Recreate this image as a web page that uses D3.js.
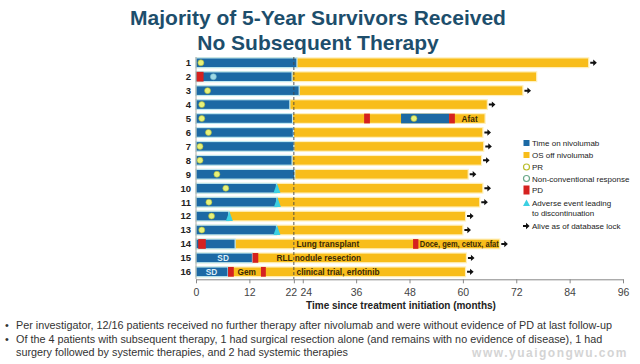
<!DOCTYPE html>
<html><head><meta charset="utf-8">
<script src="https://cdn.jsdelivr.net/npm/d3@7/dist/d3.min.js"></script>
<style>body{margin:0;background:#fff;}svg{display:block;font-family:Arial,"Liberation Sans",sans-serif;}</style>
</head><body><svg id="c" width="640" height="364"></svg>
<script>
const patients = ["1","2","3","4","5","6","7","8","9","10","11","12","13","14","15","16"];
const nivoEnd = [22.7,21.6,23.2,21.1,21.7,21.9,22.0,21.6,22.2,18.1,18.2,7.4,18.1,8.8,12.7,7.2];
const osEnd = [88.3,76.6,73.5,65.5,65.0,64.5,64.7,64.2,61.2,64.5,63.8,60.6,60.0,68.3,60.8,60.6];
const alive = [1,0,1,1,0,1,1,1,1,1,1,1,1,1,1,1];
const nivoExtra = [{row:"5",start:46.1,end:56.9}];
const pdMarks = [{row:"2",start:0.1,end:1.7},{row:"5",start:37.8,end:39.1},{row:"5",start:56.9,end:58.2},
  {row:"14",start:0.5,end:2.2},{row:"14",start:48.8,end:50.0},{row:"15",start:12.7,end:14.0},
  {row:"16",start:7.2,end:8.5},{row:"16",start:14.6,end:15.7}];
const prMarks = [{row:"1",t:1.1},{row:"3",t:2.6},{row:"4",t:1.3},{row:"5",t:1.3},{row:"5",t:49.0},
  {row:"6",t:2.8},{row:"7",t:0.9},{row:"8",t:0.9},{row:"9",t:4.7},{row:"10",t:6.7},
  {row:"11",t:2.9},{row:"12",t:3.5},{row:"13",t:1.3}];
const ncrMarks = [{row:"2",t:3.9}];
const aeMarks = [{row:"10",t:18.2},{row:"11",t:18.3},{row:"12",t:7.5},{row:"13",t:18.2}];
const notes = [{row:"5",t:59.7,text:"Afat"},{row:"14",t:22.6,text:"Lung transplant"},
  {row:"14",t:50.3,text:"Doce, gem, cetux, afat"},{row:"15",t:18.1,text:"RLL nodule resection"},
  {row:"16",t:22.6,text:"clinical trial, erlotinib"}];
const centeredNotes = [{row:"16",t:11.4,text:"Gem",white:false},{row:"15",t:6.1,text:"SD",white:true},{row:"16",t:3.5,text:"SD",white:true}];
const xTicks = [0,12,22,24,36,48,60,72,84,96];
const legendItems = ["Time on nivolumab","OS off nivolumab","PR","Non-conventional response","PD","Adverse event leading|to discontinuation","Alive as of database lock"];
const titleLines = ["Majority of 5-Year Survivors Received","No Subsequent Therapy"];
const footnotes = ["Per investigator, 12/16 patients received no further therapy after nivolumab and were without evidence of PD at last follow-up",
  "Of the 4 patients with subsequent therapy, 1 had surgical resection alone (and remains with no evidence of disease), 1 had|surgery followed by systemic therapies, and 2 had systemic therapies"];

const BLUE="#1c69a4", YEL="#f8bd1a", RED="#d5211f", PRF="#e8f27a", NCRF="#9fd9e6", AEC="#3cd0e2";
const svg = d3.select("#c");
const x = d3.scaleLinear().domain([0,96]).range([196,623]);
const y = d3.scaleBand().domain(patients).range([55.8,278.8]).paddingInner(0.3).paddingOuter(0.15);
const bh = y.bandwidth();
const cy = r => y(r)+bh/2;
const osOf = r => osEnd[patients.indexOf(r)];

svg.append("g").selectAll("text").data(titleLines).join("text")
  .attr("x",318).attr("y",(d,i)=>25+i*24.5).attr("text-anchor","middle")
  .attr("font-size",21).attr("font-weight","bold").attr("fill","#1d4e6c").text(d=>d);

const g = svg.append("g");
g.selectAll("rect.os").data(patients).join("rect").attr("class","os")
  .attr("x",x(0)).attr("y",d=>y(d)).attr("width",(d,i)=>x(osEnd[i])-x(0)).attr("height",bh)
  .attr("fill",YEL).attr("stroke","#fff0bd").attr("stroke-width",1.2);
g.selectAll("rect.nv").data(patients).join("rect").attr("class","nv")
  .attr("x",x(0)).attr("y",d=>y(d)).attr("width",(d,i)=>x(nivoEnd[i])-x(0)).attr("height",bh)
  .attr("fill",BLUE).attr("stroke","#bfe8f2").attr("stroke-width",1.2);
g.selectAll("rect.nv2").data(nivoExtra).join("rect")
  .attr("x",d=>x(d.start)).attr("y",d=>y(d.row)).attr("width",d=>x(d.end)-x(d.start)).attr("height",bh)
  .attr("fill",BLUE);
g.selectAll("rect.pd").data(pdMarks).join("rect")
  .attr("x",d=>x(d.start)).attr("y",d=>y(d.row)).attr("width",d=>x(d.end)-x(d.start)).attr("height",bh)
  .attr("fill",RED);
g.selectAll("path.ae").data(aeMarks).join("path")
  .attr("d",d=>{const cx=x(d.t),t=y(d.row),b=t+bh;return `M${cx-3.5},${b}L${cx},${t}L${cx+3.5},${b}Z`;})
  .attr("fill",AEC);
g.selectAll("circle.pr").data(prMarks).join("circle")
  .attr("cx",d=>x(d.t)).attr("cy",d=>cy(d.row)).attr("r",3).attr("fill",PRF).attr("stroke","#a7b23a").attr("stroke-width",0.6);
g.selectAll("circle.ncr").data(ncrMarks).join("circle")
  .attr("cx",d=>x(d.t)).attr("cy",d=>cy(d.row)).attr("r",3).attr("fill",NCRF).attr("stroke","#6fb7c4").attr("stroke-width",0.6);
const arrow = (sel, ax, ay) => sel.append("path")
  .attr("d",`M${ax},${ay-1}h3v-2.2l3.6,3.2l-3.6,3.2v-2.2h-3z`).attr("fill","#111");
patients.forEach((p,i)=>{ if(alive[i]) arrow(g, x(osEnd[i])+1.5, cy(p)); });
g.selectAll("text.note").data(notes).join("text")
  .attr("x",d=>x(d.t)).attr("y",d=>cy(d.row)+3).attr("font-size",8.3).attr("font-weight","bold")
  .attr("fill","#3b2a05").text(d=>d.text)
  .each(function(d){
    const avail = x(osOf(d.row)) - x(d.t) - 1;
    const w = this.getComputedTextLength();
    if (w > avail) d3.select(this).attr("textLength",avail).attr("lengthAdjust","spacingAndGlyphs");
  });
g.selectAll("text.cn").data(centeredNotes).join("text")
  .attr("x",d=>x(d.t)).attr("y",d=>cy(d.row)+3).attr("text-anchor","middle").attr("font-size",8.3).attr("font-weight","bold")
  .attr("fill",d=>d.white?"#dfeef8":"#3b2a05").text(d=>d.text);

svg.append("line").attr("x1",x(22)).attr("x2",x(22)).attr("y1",57).attr("y2",279)
  .attr("stroke","#444").attr("stroke-width",0.9).attr("stroke-dasharray","3,2");
svg.append("line").attr("x1",x(0)).attr("x2",x(0)).attr("y1",57).attr("y2",279).attr("stroke","#999").attr("stroke-width",0.8);
svg.append("g").selectAll("text").data(patients).join("text")
  .attr("x",191).attr("y",d=>cy(d)+3.4).attr("text-anchor","end").attr("font-size",9.5).attr("font-weight","bold")
  .attr("fill","#222").text(d=>d);

const xa = svg.append("g").attr("transform","translate(0,279.3)")
  .call(d3.axisBottom(x).tickValues(xTicks).tickSize(4).tickSizeOuter(0).tickFormat(d3.format("d")));
xa.select(".domain").attr("stroke","#888");
xa.selectAll(".tick line").attr("stroke","#888");
xa.selectAll(".tick text").attr("font-size",10.5).attr("fill","#444").attr("font-family","Arial,'Liberation Sans',sans-serif").attr("dy","0.95em");
xa.selectAll(".tick text").filter(d=>d===22).attr("dx","-3");
xa.selectAll(".tick text").filter(d=>d===24).attr("dx","3");
svg.append("text").attr("x",401).attr("y",309).attr("text-anchor","middle").attr("font-size",10).attr("font-weight","bold")
  .attr("fill","#222").text("Time since treatment initiation (months)");

const lg = svg.append("g");
const ly = [143,155,167,178.5,190,203,226];
const lx = 526.5;
legendItems.forEach((t,i)=>{
  const yy = ly[i];
  if(i===0) lg.append("rect").attr("x",lx-3).attr("y",yy-3).attr("width",6).attr("height",6).attr("fill",BLUE);
  if(i===1) lg.append("rect").attr("x",lx-3).attr("y",yy-3).attr("width",6).attr("height",6).attr("fill",YEL);
  if(i===2) lg.append("circle").attr("cx",lx).attr("cy",yy).attr("r",3).attr("fill","#fff").attr("stroke","#b9bd2a").attr("stroke-width",1.2);
  if(i===3) lg.append("circle").attr("cx",lx).attr("cy",yy).attr("r",3).attr("fill","#fff").attr("stroke","#6aa88a").attr("stroke-width",1.2);
  if(i===4) lg.append("rect").attr("x",lx-3).attr("y",yy-4.5).attr("width",6).attr("height",9).attr("fill",RED);
  if(i===5) lg.append("path").attr("d",`M${lx-3.5},${yy+3}L${lx},${yy-3.5}L${lx+3.5},${yy+3}Z`).attr("fill",AEC);
  if(i===6) arrow(lg, lx-3.5, yy);
  t.split("|").forEach((s,j)=>lg.append("text").attr("x",532).attr("y",yy+3+j*10).attr("font-size",8)
    .attr("fill","#222").text(s));
});

const fl = [];
footnotes.forEach(f=>f.split("|").forEach((s,j)=>fl.push({s,bullet:j===0})));
svg.append("g").selectAll("text").data(fl).join("text")
  .attr("x",16).attr("y",(d,i)=>329+i*13.5).attr("font-size",10.8).attr("fill","#333").text(d=>d.s);
svg.append("g").selectAll("text").data(fl.filter(d=>d.bullet)).join("text")
  .attr("x",5).attr("y",(d,i)=>329+i*13.5).attr("font-size",10.8).attr("fill","#333").text("•");
svg.append("text").attr("x",628).attr("y",357).attr("text-anchor","end").attr("font-size",12).attr("font-weight","bold")
  .attr("fill","#d4d4d4").attr("letter-spacing",1.5).text("www.yuaigongwu.com");
</script></body></html>
